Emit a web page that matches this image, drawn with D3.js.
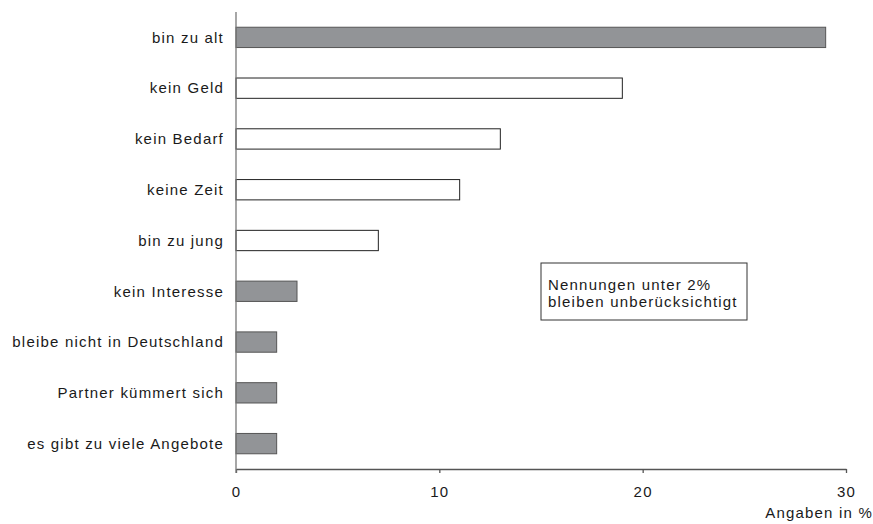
<!DOCTYPE html>
<html>
<head>
<meta charset="utf-8">
<script src="https://cdn.jsdelivr.net/npm/d3@7"></script>
<style>
  body { margin: 0; background: #fff; }
  svg text { font-family: "Liberation Sans", Arial, sans-serif; fill: #1a1a1a; letter-spacing: 1.2px; }
</style>
</head>
<body>
<div id="chart"></div>
<script>
// categories top to bottom
const categories = ['bin zu alt', 'kein Geld', 'kein Bedarf', 'keine Zeit', 'bin zu jung',
  'kein Interesse', 'bleibe nicht in Deutschland', 'Partner kümmert sich', 'es gibt zu viele Angebote'];
const values = [29, 19, 13, 11, 7, 3, 2, 2, 2];
const highlighted = [true, false, false, false, false, true, true, true, true];
const xTicks = [0, 10, 20, 30];
const noteLines = ['Nennungen unter 2%', 'bleiben unberücksichtigt'];

const width = 873, height = 524;
const margin = {top: 12, right: 27, bottom: 55, left: 236};
const fontSize = '15px';

const svg = d3.select('#chart').append('svg')
  .attr('width', width)
  .attr('height', height);

const x = d3.scaleLinear()
  .domain([0, 30])
  .range([margin.left, width - margin.right]);

const y = d3.scaleBand()
  .domain(categories)
  .range([margin.top, height - margin.bottom])
  .paddingInner(0.6)
  .paddingOuter(0.3);

// bars
svg.append('g')
  .selectAll('rect')
  .data(categories)
  .join('rect')
    .attr('x', x(0))
    .attr('y', d => y(d))
    .attr('width', (d, i) => x(values[i]) - x(0))
    .attr('height', y.bandwidth())
    .attr('fill', (d, i) => highlighted[i] ? '#929497' : '#fff')
    .attr('stroke', (d, i) => highlighted[i] ? '#555' : '#222')
    .attr('stroke-width', 1);

// category labels
svg.append('g')
  .selectAll('text')
  .data(categories)
  .join('text')
    .attr('x', margin.left - 12)
    .attr('y', d => y(d) + y.bandwidth() / 2)
    .attr('dy', '0.35em')
    .attr('text-anchor', 'end')
    .style('font-size', fontSize)
    .text(d => d);

// x axis
const xAxis = d3.axisBottom(x)
  .tickValues(xTicks)
  .tickSize(4)
  .tickSizeOuter(0)
  .tickPadding(13);

const gx = svg.append('g')
  .attr('transform', `translate(0,${height - margin.bottom})`)
  .call(xAxis);
gx.select('.domain').attr('stroke', '#555').attr('stroke-width', 1.3);
gx.selectAll('.tick line').attr('stroke', '#555').attr('stroke-width', 1.3);
gx.selectAll('.tick text')
  .style('font-size', fontSize)
  .style('font-family', '"Liberation Sans", Arial, sans-serif')
  .attr('fill', '#1a1a1a');

// y axis line
svg.append('line')
  .attr('x1', x(0)).attr('x2', x(0))
  .attr('y1', margin.top).attr('y2', height - margin.bottom + 4)
  .attr('stroke', '#777')
  .attr('stroke-width', 1.3);

// unit label
svg.append('text')
  .attr('x', width)
  .attr('y', height - 6)
  .attr('text-anchor', 'end')
  .style('font-size', fontSize)
  .text('Angaben in %');

// note box
const note = svg.append('g').attr('transform', 'translate(541,263)');
note.append('rect')
  .attr('width', 206)
  .attr('height', 57)
  .attr('fill', '#fff')
  .attr('stroke', '#333')
  .attr('stroke-width', 1);
note.selectAll('text')
  .data(noteLines)
  .join('text')
    .attr('x', 7)
    .attr('y', (d, i) => 27 + i * 17)
    .style('font-size', fontSize)
    .text(d => d);
</script>
</body>
</html>
